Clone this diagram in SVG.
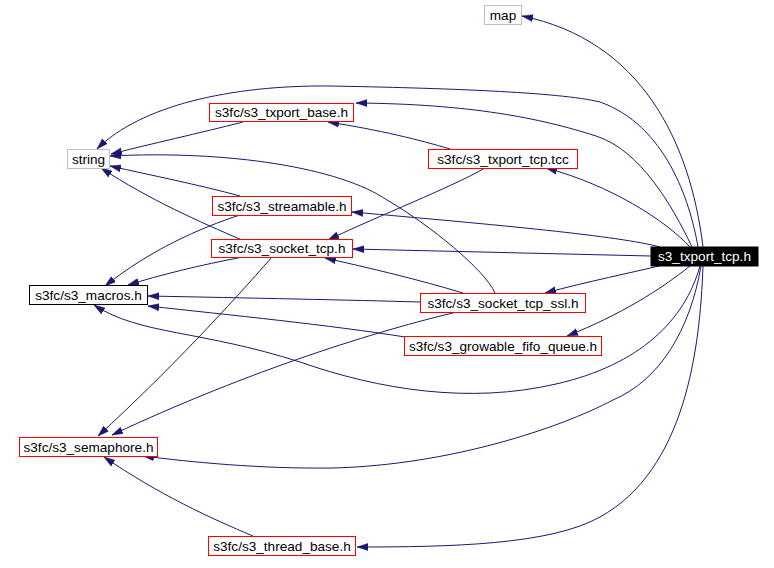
<svg xmlns="http://www.w3.org/2000/svg" width="774" height="568" viewBox="0 0 774 568">
<style>
.n rect{fill:#fff;stroke-width:1}
.red rect{stroke:#ff0000}
.gray rect{stroke:#bfbfbf}
.blk rect{stroke:#000}
.root rect{fill:#000;stroke:#000}
text{font-family:"Liberation Sans",Arial,sans-serif;font-size:13.6px;text-anchor:middle;fill:#000}
.root text{fill:#fff}
.e path{fill:none;stroke:#191970;stroke-width:1;marker-end:url(#ah)}
</style>
<defs>
<marker id="ah" markerUnits="userSpaceOnUse" markerWidth="12" markerHeight="10" refX="11" refY="4" orient="auto" viewBox="0 0 12 8">
<path d="M0,0.5 L11,4 L0,7.5 z" fill="#191970" stroke="#191970" stroke-width="0.5"/>
</marker>
</defs>
<rect width="774" height="568" fill="#fff"/>
<g class="e" id="edges">
<path d="M703,247 C690,140 640,40 522,16"/>
<path d="M698,247 C690,200 665,125 600,102 C560,92 440,88 330,86 C230,85 140,106 97,149"/>
<path d="M692,247 C672,205 640,150 596,136 C540,118 470,104 356,103"/>
<path d="M690,247 C665,220 610,185 546,168"/>
<path d="M660,247 C620,236 500,225 352,212"/>
<path d="M651,256 L353,249"/>
<path d="M663,265 C630,273 590,281 545,293"/>
<path d="M690,266 C660,290 620,315 567,336"/>
<path d="M700,266 C685,320 640,365 556,384 C470,404 380,390 300,362 C200,330 140,335 94,305"/>
<path d="M701,266 C690,330 660,380 613,400 C560,428 450,465 333,468 C260,469 190,462 143,456"/>
<path d="M703,266 C700,350 685,470 600,517 C550,545 450,547 357,547"/>
<path d="M243,122 C200,133 150,144 111,154"/>
<path d="M450,149 C420,140 380,130 328,122"/>
<path d="M485,168 C450,188 380,215 328,240"/>
<path d="M240,196 C200,185 150,175 110,166"/>
<path d="M240,215 C200,228 150,250 105,286"/>
<path d="M242,240 C200,222 150,200 101,168"/>
<path d="M243,257 C200,265 160,275 128,285"/>
<path d="M272,257 C230,305 170,370 98,436"/>
<path d="M495,293 C485,270 430,225 387,200 C340,168 230,150 110,156"/>
<path d="M463,293 C420,280 370,268 325,258"/>
<path d="M420,302 C350,300 250,298 148,296"/>
<path d="M405,337 C330,325 230,315 148,306"/>
<path d="M457,312 C380,330 250,370 112,435"/>
<path d="M253,536 C210,518 160,495 104,457"/>
</g>
<g id="n_map" class="n gray"><rect x="484.5" y="5.5" width="37" height="19"/><text x="503" y="19.5">map</text></g>
<g id="n_string" class="n gray"><rect x="67.5" y="149.5" width="42" height="19"/><text x="88.5" y="163.5">string</text></g>
<g id="n_txport_base" class="n red"><rect x="209.5" y="103.5" width="144" height="18"/><text x="281.5" y="117">s3fc/s3_txport_base.h</text></g>
<g id="n_txport_tcc" class="n red"><rect x="428.5" y="149.5" width="149" height="19"/><text x="503" y="163.5">s3fc/s3_txport_tcp.tcc</text></g>
<g id="n_streamable" class="n red"><rect x="212.5" y="196.5" width="139" height="19"/><text x="282" y="210.5">s3fc/s3_streamable.h</text></g>
<g id="n_socket_tcp" class="n red"><rect x="211.5" y="239.5" width="141" height="18"/><text x="282" y="253">s3fc/s3_socket_tcp.h</text></g>
<g id="n_macros" class="n blk"><rect x="29.5" y="285.5" width="118" height="19"/><text x="88.5" y="299.5">s3fc/s3_macros.h</text></g>
<g id="n_root" class="n root"><rect x="651" y="247" width="107" height="19"/><text x="704.5" y="261">s3_txport_tcp.h</text></g>
<g id="n_ssl" class="n red"><rect x="420.5" y="293.5" width="165" height="19"/><text x="503" y="307.5">s3fc/s3_socket_tcp_ssl.h</text></g>
<g id="n_fifo" class="n red"><rect x="404.5" y="336.5" width="197" height="19"/><text x="503" y="350.5">s3fc/s3_growable_fifo_queue.h</text></g>
<g id="n_semaphore" class="n red"><rect x="19.5" y="437.5" width="138" height="19"/><text x="88.5" y="451.5">s3fc/s3_semaphore.h</text></g>
<g id="n_thread" class="n red"><rect x="208.5" y="536.5" width="147" height="19"/><text x="282" y="550.5">s3fc/s3_thread_base.h</text></g>
</svg>
